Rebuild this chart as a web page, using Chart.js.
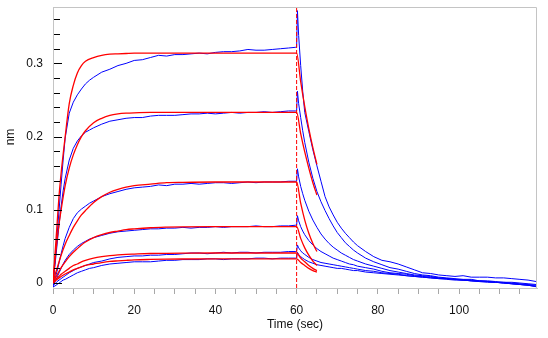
<!DOCTYPE html>
<html>
<head>
<meta charset="utf-8">
<script src="https://cdn.jsdelivr.net/npm/chart.js@4.4.0/dist/chart.umd.min.js"></script>
<style>
html, body { margin: 0; padding: 0; background: #fff; }
</style>
</head>
<body>
<canvas id="chart" width="548" height="338"></canvas>
<script>
// Axis ticks
const xTicks = [0, 5, 10, 15, 20, 25, 30, 35, 40, 45, 50, 55, 60, 65, 70, 75, 80, 85, 90, 95, 100, 105, 110, 115];
const xLabels = [0, 20, 40, 60, 80, 100];
const yTicks = [0, 0.02, 0.04, 0.06, 0.08, 0.1, 0.12, 0.14, 0.16, 0.18, 0.2, 0.22, 0.24, 0.26, 0.28, 0.3, 0.32, 0.34, 0.36];
const yLabels = [0, 0.1, 0.2, 0.3];
const startDissoc = 60;

// Time points (sec)
const assocT = [0, 0.5, 1, 1.5, 2, 2.5, 3, 4, 5, 6, 7, 8, 9, 10, 12, 14, 16, 18, 20, 22, 24, 26, 28, 30, 32, 34, 36, 38, 40, 42, 44, 46, 48, 50, 52, 54, 56, 58, 59.8];
const dissocT = [60, 60.2, 60.5, 61, 61.5, 62, 63, 64, 65, 66, 67, 68, 69, 70, 71, 72, 73, 74, 75, 77, 79, 81, 83, 85, 87, 89, 91, 93, 95, 97, 99, 101, 103, 105, 107, 109, 111, 113, 115, 117, 119];
const fitAssocT = [0, 0.5, 1, 1.5, 2, 3, 4, 5, 6, 7, 8, 10, 12, 14, 16, 18, 20, 24, 28, 32, 40, 50, 59.8];
const fitDissocT = [60, 61, 62, 63, 64, 65];

// Measured sensorgrams (nm)
const b1Assoc = [-0.002, 0.03, 0.065, 0.1, 0.135, 0.168, 0.198, 0.232, 0.247, 0.257, 0.265, 0.272, 0.277, 0.281, 0.288, 0.292, 0.297, 0.3, 0.304, 0.305, 0.308, 0.311, 0.31, 0.312, 0.312, 0.313, 0.314, 0.313, 0.315, 0.316, 0.316, 0.317, 0.319, 0.318, 0.318, 0.319, 0.32, 0.321, 0.322];
const b1Dissoc = [0.322, 0.372, 0.338, 0.297, 0.262, 0.233, 0.207, 0.182, 0.16, 0.139, 0.118, 0.104, 0.093, 0.083, 0.075, 0.068, 0.062, 0.056, 0.051, 0.043, 0.036, 0.031, 0.029, 0.026, 0.022, 0.018, 0.014, 0.013, 0.011, 0.01, 0.009, 0.01, 0.008, 0.008, 0.008, 0.007, 0.007, 0.006, 0.005, 0.004, 0.002];
const b2Assoc = [-0.002, 0.025, 0.052, 0.08, 0.105, 0.126, 0.143, 0.168, 0.184, 0.194, 0.201, 0.206, 0.209, 0.212, 0.217, 0.221, 0.223, 0.225, 0.226, 0.226, 0.228, 0.229, 0.229, 0.229, 0.23, 0.231, 0.231, 0.232, 0.231, 0.232, 0.233, 0.232, 0.233, 0.233, 0.234, 0.233, 0.234, 0.235, 0.235];
const b2Dissoc = [0.235, 0.262, 0.245, 0.226, 0.208, 0.192, 0.165, 0.143, 0.125, 0.111, 0.099, 0.088, 0.078, 0.069, 0.062, 0.055, 0.05, 0.045, 0.041, 0.034, 0.029, 0.025, 0.021, 0.019, 0.016, 0.013, 0.011, 0.01, 0.008, 0.007, 0.006, 0.005, 0.005, 0.003, 0.003, 0.002, 0.001, 0.001, 0, -0.001, -0.002];
const b3Assoc = [-0.003, 0.006, 0.016, 0.028, 0.04, 0.051, 0.061, 0.076, 0.088, 0.096, 0.101, 0.105, 0.109, 0.112, 0.118, 0.122, 0.125, 0.128, 0.13, 0.131, 0.132, 0.134, 0.133, 0.135, 0.135, 0.136, 0.135, 0.136, 0.137, 0.137, 0.136, 0.137, 0.138, 0.137, 0.138, 0.138, 0.138, 0.139, 0.139];
const b3Dissoc = [0.139, 0.156, 0.145, 0.132, 0.122, 0.113, 0.098, 0.086, 0.076, 0.067, 0.06, 0.054, 0.049, 0.045, 0.041, 0.038, 0.035, 0.032, 0.03, 0.026, 0.023, 0.02, 0.017, 0.015, 0.013, 0.011, 0.01, 0.009, 0.007, 0.006, 0.005, 0.004, 0.004, 0.003, 0.002, 0.001, 0, -0.001, -0.002, -0.003, -0.004];
const b4Assoc = [-0.004, 0.002, 0.008, 0.014, 0.02, 0.026, 0.031, 0.039, 0.045, 0.05, 0.054, 0.057, 0.06, 0.062, 0.065, 0.068, 0.07, 0.071, 0.072, 0.073, 0.074, 0.074, 0.075, 0.075, 0.076, 0.075, 0.076, 0.076, 0.077, 0.076, 0.077, 0.077, 0.077, 0.078, 0.077, 0.077, 0.078, 0.078, 0.079];
const b4Dissoc = [0.079, 0.092, 0.085, 0.077, 0.071, 0.066, 0.058, 0.052, 0.047, 0.043, 0.04, 0.037, 0.034, 0.032, 0.03, 0.028, 0.026, 0.025, 0.023, 0.021, 0.019, 0.016, 0.014, 0.013, 0.012, 0.01, 0.009, 0.008, 0.007, 0.006, 0.005, 0.004, 0.003, 0.002, 0.001, 0.001, 0, -0.001, -0.002, -0.003, -0.005];
const b5Assoc = [-0.003, -0.001, 0.002, 0.004, 0.006, 0.008, 0.01, 0.014, 0.017, 0.02, 0.022, 0.024, 0.026, 0.028, 0.03, 0.033, 0.035, 0.036, 0.037, 0.037, 0.038, 0.038, 0.039, 0.039, 0.04, 0.041, 0.041, 0.04, 0.041, 0.042, 0.041, 0.042, 0.042, 0.041, 0.042, 0.042, 0.042, 0.043, 0.043];
const b5Dissoc = [0.043, 0.052, 0.048, 0.044, 0.041, 0.039, 0.035, 0.032, 0.03, 0.028, 0.027, 0.026, 0.025, 0.024, 0.023, 0.022, 0.021, 0.02, 0.019, 0.017, 0.016, 0.014, 0.013, 0.012, 0.01, 0.009, 0.008, 0.007, 0.006, 0.006, 0.005, 0.004, 0.003, 0.003, 0.002, 0.001, 0.001, 0, -0.001, -0.002, -0.003];
const b6Assoc = [-0.005, -0.004, -0.002, 0, 0.002, 0.004, 0.005, 0.008, 0.011, 0.014, 0.016, 0.018, 0.02, 0.021, 0.024, 0.026, 0.027, 0.028, 0.029, 0.029, 0.029, 0.03, 0.031, 0.031, 0.032, 0.032, 0.032, 0.033, 0.033, 0.032, 0.033, 0.033, 0.033, 0.034, 0.034, 0.033, 0.034, 0.034, 0.034];
const b6Dissoc = [0.034, 0.042, 0.039, 0.036, 0.034, 0.032, 0.029, 0.027, 0.025, 0.024, 0.023, 0.022, 0.021, 0.02, 0.02, 0.019, 0.018, 0.017, 0.017, 0.015, 0.014, 0.013, 0.012, 0.011, 0.01, 0.009, 0.008, 0.007, 0.006, 0.005, 0.004, 0.004, 0.003, 0.002, 0.002, 0.001, 0, -0.001, -0.002, -0.003, -0.005];

// Fitted curves (nm)
const f1Assoc = [0, 0.04, 0.08, 0.12, 0.15, 0.2, 0.245, 0.27, 0.287, 0.297, 0.303, 0.308, 0.311, 0.3125, 0.313, 0.3135, 0.314, 0.314, 0.314, 0.314, 0.314, 0.314, 0.314];
const f1Dissoc = [0.314, 0.275, 0.241, 0.211, 0.185, 0.162];
const f2Assoc = [0, 0.032, 0.058, 0.081, 0.1, 0.133, 0.157, 0.175, 0.189, 0.2, 0.208, 0.219, 0.225, 0.229, 0.231, 0.232, 0.2325, 0.233, 0.233, 0.233, 0.233, 0.233, 0.233];
const f2Dissoc = [0.233, 0.204, 0.179, 0.157, 0.137, 0.12];
const f3Assoc = [0, 0.011, 0.02, 0.029, 0.038, 0.053, 0.065, 0.076, 0.085, 0.093, 0.099, 0.11, 0.118, 0.124, 0.128, 0.131, 0.133, 0.135, 0.137, 0.1375, 0.138, 0.138, 0.138];
const f3Dissoc = [0.138, 0.109, 0.086, 0.068, 0.054, 0.043];
const f4Assoc = [0, 0.006, 0.011, 0.016, 0.021, 0.029, 0.036, 0.042, 0.047, 0.052, 0.056, 0.062, 0.066, 0.069, 0.071, 0.073, 0.074, 0.0755, 0.0763, 0.0768, 0.077, 0.077, 0.077];
const f4Dissoc = [0.077, 0.061, 0.048, 0.038, 0.03, 0.024];
const f5Assoc = [0, 0.003, 0.0064, 0.0092, 0.012, 0.016, 0.02, 0.024, 0.026, 0.029, 0.031, 0.034, 0.036, 0.0375, 0.0385, 0.0392, 0.0396, 0.0403, 0.0406, 0.0408, 0.041, 0.041, 0.041];
const f5Dissoc = [0.041, 0.034, 0.029, 0.024, 0.02, 0.017];
const f6Assoc = [0, 0.0025, 0.0047, 0.0069, 0.009, 0.0123, 0.015, 0.018, 0.02, 0.022, 0.024, 0.026, 0.028, 0.0295, 0.0303, 0.031, 0.0316, 0.0322, 0.0326, 0.0328, 0.033, 0.033, 0.033];
const f6Dissoc = [0.033, 0.028, 0.024, 0.02, 0.017, 0.015];

const X_MIN = 0, X_MAX = 119.2, Y_MIN = -0.0068, Y_MAX = 0.377;

function pts(ts, vs) {
    return ts.map((t, i) => ({ x: t, y: vs[i] }));
}

const measured = [
    [b1Assoc, b1Dissoc], [b2Assoc, b2Dissoc], [b3Assoc, b3Dissoc],
    [b4Assoc, b4Dissoc], [b5Assoc, b5Dissoc], [b6Assoc, b6Dissoc]
];
const fits = [
    [f1Assoc, f1Dissoc], [f2Assoc, f2Dissoc], [f3Assoc, f3Dissoc],
    [f4Assoc, f4Dissoc], [f5Assoc, f5Dissoc], [f6Assoc, f6Dissoc]
];

const datasets = [];
// first dataset is drawn on top in Chart.js
datasets.push({
    data: [{ x: startDissoc, y: Y_MIN }, { x: startDissoc, y: Y_MAX }],
    borderColor: '#ff0000', borderWidth: 1, borderDash: [4, 2], pointRadius: 0
});
fits.forEach(([a, d]) => datasets.push({
    data: pts(fitAssocT, a).concat(pts(fitDissocT, d)),
    borderColor: '#ff0000', borderWidth: 1.3, pointRadius: 0,
    cubicInterpolationMode: 'monotone'
}));
measured.forEach(([a, d]) => datasets.push({
    data: pts(assocT, a).concat(pts(dissocT, d)),
    borderColor: '#0000ff', borderWidth: 1, pointRadius: 0, tension: 0
}));

const frame = {
    id: 'frame',
    afterDraw(chart) {
        const { ctx, chartArea: a, scales: { y } } = chart;
        ctx.save();
        // top and right border
        ctx.strokeStyle = '#c4c4c4';
        ctx.lineWidth = 1;
        ctx.beginPath();
        ctx.moveTo(a.left, a.top + 0.5);
        ctx.lineTo(a.right - 0.5, a.top + 0.5);
        ctx.lineTo(a.right - 0.5, a.bottom);
        ctx.stroke();
        // inward y tick marks
        ctx.strokeStyle = '#000';
        yTicks.forEach(v => {
            const py = Math.round(y.getPixelForValue(v)) + 0.5;
            const len = yLabels.includes(v) ? 8 : 6;
            ctx.beginPath();
            ctx.moveTo(a.left + 1, py);
            ctx.lineTo(a.left + 1 + len, py);
            ctx.stroke();
        });
        // y title
        ctx.fillStyle = '#111';
        ctx.font = '12px "Liberation Sans", Arial, sans-serif';
        ctx.textAlign = 'center';
        ctx.textBaseline = 'middle';
        ctx.translate(11, 137);
        ctx.rotate(-Math.PI / 2);
        ctx.fillText('nm', 0, 0);
        ctx.restore();
    }
};

function noPad(s) {
    s.paddingTop = 0;
    s.paddingBottom = 0;
    s.paddingLeft = 0;
    s.paddingRight = 0;
}

Chart.defaults.font.family = '"Liberation Sans", Arial, sans-serif';
Chart.defaults.font.size = 12;
Chart.defaults.color = '#111';

new Chart(document.getElementById('chart'), {
    type: 'line',
    data: { datasets },
    options: {
        responsive: false,
        animation: false,
        layout: { padding: { left: 0, right: 11, top: 7, bottom: 0 } },
        plugins: { legend: { display: false }, tooltip: { enabled: false } },
        scales: {
            x: {
                type: 'linear', min: X_MIN, max: X_MAX,
                afterBuildTicks: s => { s.ticks = xTicks.map(v => ({ value: v })); },
                afterFit: s => { s.height = 50; noPad(s); },
                ticks: {
                    autoSkip: false, maxRotation: 0, padding: 9,
                    callback: v => xLabels.includes(v) ? String(v) : ''
                },
                grid: { display: true, drawOnChartArea: false, drawTicks: true, tickLength: 6, color: '#a8a8a8' },
                border: { display: true, color: '#c4c4c4' },
                title: { display: true, text: 'Time (sec)', padding: { top: 0, bottom: 6 } }
            },
            y: {
                type: 'linear', min: Y_MIN, max: Y_MAX,
                afterBuildTicks: s => { s.ticks = yTicks.map(v => ({ value: v })); },
                afterFit: s => { s.width = 53; noPad(s); },
                ticks: {
                    autoSkip: false, padding: 10,
                    callback: v => yLabels.includes(v) ? String(v) : ''
                },
                grid: { display: false, drawTicks: false },
                border: { display: true, color: '#c4c4c4' }
            }
        }
    },
    plugins: [frame]
});
</script>
</body>
</html>
